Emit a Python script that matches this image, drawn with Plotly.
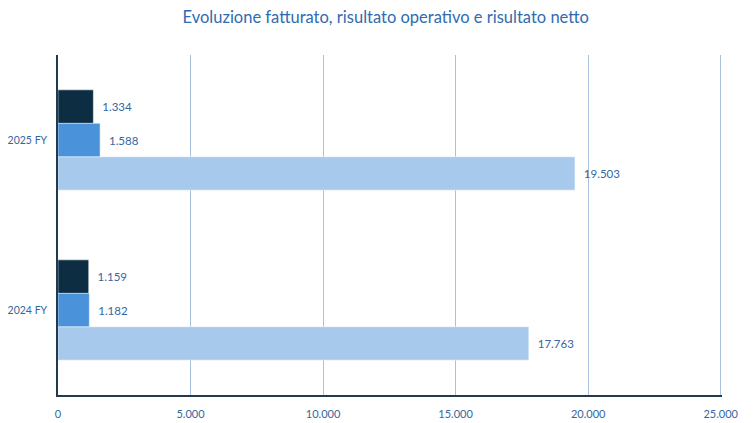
import plotly.graph_objects as go

categories = ['2024 FY', '2025 FY']
fatturato = [17763, 19503]
risultato_operativo = [1182, 1588]
risultato_netto = [1159, 1334]

label_color = '#3566A0'
font_family = 'Lato, Open Sans, sans-serif'

fig = go.Figure()

series = [
    ('Fatturato', fatturato, '#A6C9EC'),
    ('Risultato operativo', risultato_operativo, '#4A93DB'),
    ('Risultato netto', risultato_netto, '#0C2D42'),
]
for name, vals, col in series:
    fig.add_trace(go.Bar(
        y=categories, x=vals, name=name, orientation='h',
        marker=dict(color=col, line=dict(color='white', width=0.5)),
        text=vals, texttemplate='\u00a0\u00a0%{x:,.0f}', textposition='outside',
        textfont=dict(color=label_color, size=11.5, family=font_family),
        cliponaxis=False,
    ))

# the page body has an 8px margin, so the figure is sized to fit the window
fig.update_layout(
    width=745, height=415,
    barmode='group', bargap=0.41, bargroupgap=0,
    separators=',.',
    showlegend=False,
    plot_bgcolor='white', paper_bgcolor='white',
    margin=dict(l=50, r=31, t=47, b=28),
    title=dict(text='Evoluzione fatturato, risultato operativo e risultato netto',
               x=0.507, xanchor='center', y=0.978, yanchor='middle',
               font=dict(size=16.5, color='#2F6BB0', family=font_family)),
    font=dict(family=font_family, color=label_color, size=11),
)
fig.update_xaxes(range=[0, 25050], dtick=5000, tickformat=',.0f',
                 showgrid=True, gridcolor='#A9C1DE', gridwidth=1,
                 showline=True, linecolor='#1F3B4D', linewidth=1.5,
                 zeroline=False, ticks='', ticklabelstandoff=8, automargin=False,
                 tickfont=dict(size=11, color=label_color))
fig.update_yaxes(showgrid=False, showline=True, linecolor='#1F3B4D', linewidth=1.5,
                 ticks='', ticklabelstandoff=7, automargin=False,
                 tickfont=dict(size=10.5, color=label_color))

fig.write_html('out.html')
